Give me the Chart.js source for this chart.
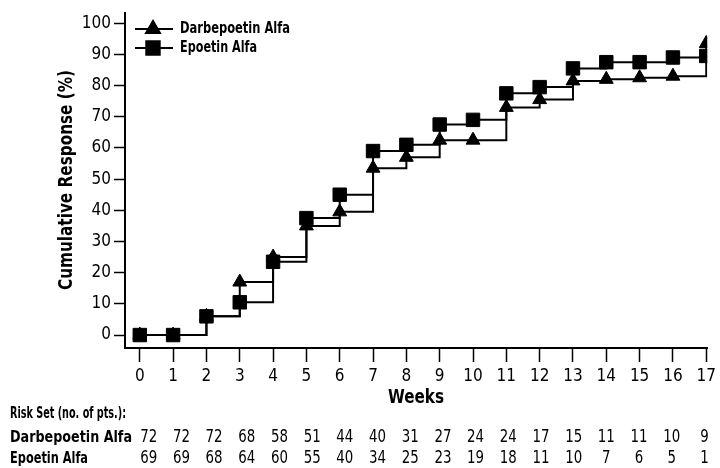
<!DOCTYPE html>
<html>
<head>
<meta charset="utf-8">
<script src="https://cdn.jsdelivr.net/npm/chart.js@4/dist/chart.umd.min.js"></script>
<style>
  html, body { margin: 0; padding: 0; background: #fff; }
  #wrap { width: 720px; height: 468px; position: relative; }
</style>
</head>
<body>
<div id="wrap"><canvas id="kmChart"></canvas></div>
<script>
// --- data ---
const weeks = [0, 1, 2, 3, 4, 5, 6, 7, 8, 9, 10, 11, 12, 13, 14, 15, 16, 17];
const darbeResponse = [0, 0, 6, 17, 25, 35, 39.5, 53.5, 57, 62.5, 62.5, 73, 75.5, 81.5, 82, 82.5, 83, 93.5];
const epoResponse = [0, 0, 6, 10.5, 23.5, 37.5, 45, 59, 61, 67.5, 69, 77.5, 79.5, 85.5, 87.5, 87.5, 89, 89.5];
const yTicks = [0, 10, 20, 30, 40, 50, 60, 70, 80, 90, 100];
const darbeRisk = [72, 72, 72, 68, 58, 51, 44, 40, 31, 27, 24, 24, 17, 15, 11, 11, 10, 9];
const epoRisk = [69, 69, 68, 64, 60, 55, 40, 34, 25, 23, 19, 18, 11, 10, 7, 6, 5, 1];

const FONT = '"DejaVu Sans Condensed", "Liberation Sans Narrow", "DejaVu Sans", sans-serif';

const toPoints = vals => weeks.map((w, i) => ({ x: w, y: vals[i] }));

// --- legend, axis titles and risk table ---
const extrasPlugin = {
    id: 'extras',
    afterDraw(chart) {
        const ctx = chart.ctx;
        const xs = chart.scales.x;
        ctx.save();
        ctx.fillStyle = '#000';
        ctx.strokeStyle = '#000';
        ctx.textBaseline = 'middle';

        // legend
        const legend = [
            { label: 'Darbepoetin Alfa', style: 'triangle', radius: 8, y: 29, w: 110 },
            { label: 'Epoetin Alfa', style: 'rect', radius: 9.5, y: 48, w: 77 }
        ];
        legend.forEach(item => {
            ctx.lineWidth = 2;
            ctx.beginPath();
            ctx.moveTo(135, item.y);
            ctx.lineTo(173, item.y);
            ctx.stroke();
            Chart.helpers.drawPoint(ctx, { pointStyle: item.style, radius: item.radius, borderWidth: 1, rotation: 0 }, 153, item.y);
            ctx.font = 'bold 16px ' + FONT;
            ctx.textAlign = 'left';
            ctx.fillText(item.label, 180, item.y, item.w);
        });

        // y axis title
        ctx.save();
        ctx.translate(67, 180);
        ctx.rotate(-Math.PI / 2);
        ctx.font = 'bold 19px ' + FONT;
        ctx.textAlign = 'center';
        ctx.fillText('Cumulative Response (%)', 0, 0, 220);
        ctx.restore();

        // x axis title
        ctx.font = 'bold 19px ' + FONT;
        ctx.textAlign = 'center';
        ctx.fillText('Weeks', 416, 398, 56);

        // risk set table
        ctx.font = 'bold 16px ' + FONT;
        ctx.textAlign = 'left';
        ctx.fillText('Risk Set (no. of pts.):', 10, 414, 116);
        ctx.fillText('Darbepoetin Alfa', 10, 438, 122);
        ctx.fillText('Epoetin Alfa', 10, 459, 78);

        ctx.font = '17px ' + FONT;
        ctx.textAlign = 'center';
        weeks.forEach((w, i) => {
            // the table columns sit slightly tighter than the week ticks
            const px = xs.getPixelForValue(0.267 + 0.981 * w);
            const a = String(darbeRisk[i]);
            const b = String(epoRisk[i]);
            ctx.fillText(a, px, 438, a.length * 8.5);
            ctx.fillText(b, px, 459, b.length * 8.5);
        });
        ctx.restore();
    }
};

new Chart(document.getElementById('kmChart'), {
    type: 'line',
    data: {
        datasets: [
            {
                label: 'Darbepoetin Alfa',
                data: toPoints(darbeResponse),
                stepped: 'before',
                borderColor: '#000',
                borderWidth: 2,
                backgroundColor: '#000',
                pointStyle: 'triangle',
                pointRadius: 8,
                pointBorderWidth: 1,
                fill: false,
                order: 2
            },
            {
                label: 'Epoetin Alfa',
                data: toPoints(epoResponse),
                stepped: 'before',
                borderColor: '#000',
                borderWidth: 2,
                backgroundColor: '#000',
                pointStyle: 'rect',
                pointRadius: 9.5,
                pointBorderWidth: 1,
                fill: false,
                order: 1
            }
        ]
    },
    options: {
        responsive: true,
        maintainAspectRatio: false,
        animation: false,
        layout: { padding: { top: 12, right: 5, left: 0, bottom: 0 } },
        plugins: {
            legend: { display: false },
            tooltip: { enabled: false }
        },
        scales: {
            x: {
                type: 'linear',
                min: -0.444,
                max: 17.03,
                afterFit(scale) { scale.height = 120; },
                afterBuildTicks(scale) { scale.ticks = weeks.map(v => ({ value: v })); },
                grid: { drawOnChartArea: false, tickLength: 14, tickWidth: 1.5, tickColor: '#000' },
                border: { color: '#000', width: 2 },
                ticks: { color: '#000', padding: 4, maxRotation: 0, autoSkip: false, font: { family: FONT, size: 17 } }
            },
            y: {
                min: -4.15,
                max: 103.2,
                afterFit(scale) { scale.width = 125; },
                afterBuildTicks(scale) { scale.ticks = yTicks.map(v => ({ value: v })); },
                grid: { drawOnChartArea: false, tickLength: 11, tickWidth: 1.5, tickColor: '#000' },
                border: { color: '#000', width: 2 },
                ticks: { color: '#000', padding: 3, font: { family: FONT, size: 17 } }
            }
        }
    },
    plugins: [extrasPlugin]
});
</script>
</body>
</html>
